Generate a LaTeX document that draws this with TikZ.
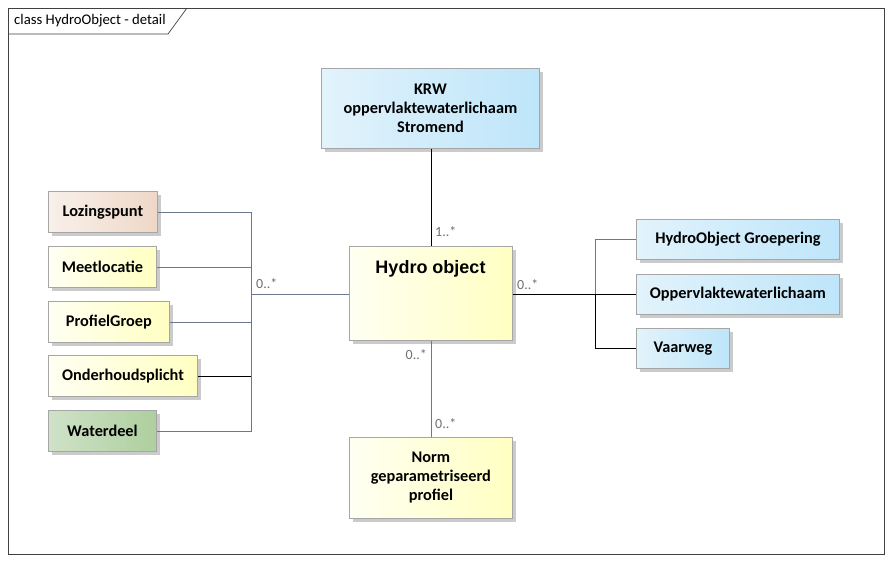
\documentclass[tikz,border=0pt]{standalone}
\usepackage{fontspec}
\setmainfont{Carlito}
\newfontfamily\arialfont{Liberation Sans}
\usetikzlibrary{shadows}
\definecolor{boxborder}{HTML}{A6A6A6}
\definecolor{shadowgray}{HTML}{CBCBCB}
\definecolor{gline}{HTML}{6B7790}
\definecolor{mult}{HTML}{707070}
\definecolor{yelL}{HTML}{FFFFF2}
\definecolor{yelR}{HTML}{FFFFC2}
\definecolor{bluL}{HTML}{E2F3FB}
\definecolor{bluR}{HTML}{BEE5FA}
\definecolor{peaL}{HTML}{F9F0EA}
\definecolor{peaR}{HTML}{EED8C8}
\definecolor{grnL}{HTML}{CFE2C8}
\definecolor{grnR}{HTML}{AECF9E}
\begin{document}
\begin{tikzpicture}[x=1pt,y=-1pt,
  box/.style={draw=boxborder, line width=0.9pt, inner sep=0pt, anchor=north west,
    drop shadow={shadow xshift=3.5pt, shadow yshift=-3.5pt, fill=shadowgray, opacity=1},
    font=\fontsize{16.3}{19}\selectfont\bfseries, align=center},
  yel/.style={left color=yelL, right color=yelR},
  blu/.style={left color=bluL, right color=bluR},
  pea/.style={left color=peaL, right color=peaR},
  grn/.style={left color=grnL, right color=grnR},
  gconn/.style={draw=gline, line width=0.9pt},
  bconn/.style={draw=black, line width=0.9pt},
  multlab/.style={text=mult, font=\fontsize{14}{14}\selectfont, inner sep=0pt},
]
\fill[white] (0,0) rectangle (891,562);
\useasboundingbox (0,0) rectangle (891,562);
% frame
\draw[black!75, line width=0.7pt] (8,8) rectangle (884,554);
\draw[black!75, line width=0.7pt] (8,34) -- (168,34) -- (187,8);
\node[anchor=west, inner sep=0pt, font=\fontsize{14.7}{14.7}\selectfont] (title) at (14,21) {class HydroObject - detail};

% nodes
\node[box, blu, minimum width=218pt, minimum height=80pt] (krw) at (321,68) {KRW\\oppervlaktewaterlichaam\\Stromend};
\node[box, yel, minimum width=163pt, minimum height=94pt] (hydro) at (349,246) {};
\node[inner sep=0pt, font=\arialfont\fontsize{18}{18}\selectfont\bfseries] (hydrot) at (430.5,269) {Hydro object};
\node[box, pea, minimum width=109pt, minimum height=41pt] (loz) at (48,191) {Lozingspunt};
\node[box, yel, minimum width=108pt, minimum height=41pt] (meet) at (48,246) {Meetlocatie};
\node[box, yel, minimum width=121pt, minimum height=41pt] (prof) at (48,301) {ProfielGroep};
\node[box, yel, minimum width=149pt, minimum height=41pt] (ond) at (48,355) {Onderhoudsplicht};
\node[box, grn, minimum width=108pt, minimum height=41pt] (wat) at (48,410) {Waterdeel};
\node[box, blu, minimum width=203pt, minimum height=40pt] (grp) at (636,219) {HydroObject Groepering};
\node[box, blu, minimum width=203pt, minimum height=40pt] (opp) at (636,274) {Oppervlaktewaterlichaam};
\node[box, blu, minimum width=93pt, minimum height=40pt] (vaar) at (636,328) {Vaarweg};
\node[box, yel, minimum width=163pt, minimum height=81pt] (norm) at (349,437) {Norm\\geparametriseerd\\profiel};

% connectors
\draw[bconn] (krw.south -| hydro.north) -- (hydro.north);
\coordinate (lb) at (251,294);
\draw[gconn] (loz.east) -| (lb);
\draw[gconn] (meet.east) -| (lb);
\draw[gconn] (prof.east) -| (lb);
\draw[bconn] (ond.east) -| (lb);
\draw[gconn] (wat.east) -| (lb);
\draw[gconn] (lb) -- (lb -| hydro.west);
\coordinate (rb) at (595,294);
\draw[bconn] (opp.west -| hydro.east) -- (opp.west);
\draw[gconn] (rb) |- (grp.west);
\draw[bconn] (rb) |- (vaar.west);
\draw[gconn] (hydro.south) -- (norm.north);

% multiplicities
\node[multlab, anchor=west] (m1) at (435,232) {1..*};
\node[multlab, anchor=west] (m2) at (256,284) {0..*};
\node[multlab, anchor=west] (m3) at (517,285) {0..*};
\node[multlab, anchor=east] (m4) at (427,355) {0..*};
\node[multlab, anchor=west] (m5) at (435,424) {0..*};
\end{tikzpicture}
\end{document}
